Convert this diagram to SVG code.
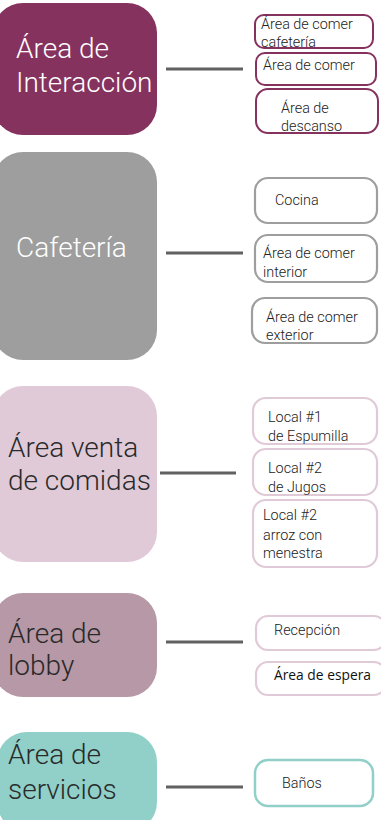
<svg xmlns="http://www.w3.org/2000/svg" width="381" height="820" viewBox="0 0 381 820">
<style>
.main{font-family:Roboto,"Liberation Sans",sans-serif;font-weight:300;font-size:28px}
.w{fill:#ffffff}
.d{fill:#2a2a2a}
.sub{font-family:Roboto,"Liberation Sans",sans-serif;font-weight:300;font-size:14.4px;fill:#222}
.conn{stroke:#616161;stroke-width:3}
.c1{fill:#fff;stroke:#86325f;stroke-width:2}
.c2{fill:#fff;stroke:#9e9e9e;stroke-width:2.2}
.c3{fill:#fff;stroke:#e0cad8;stroke-width:2.2}
.c5{fill:#fff;stroke:#90d0c8;stroke-width:2.5}
</style>
<g id="connectors">
<line class="conn" x1="166" y1="69" x2="243" y2="69"/>
<line class="conn" x1="166" y1="253" x2="243" y2="253"/>
<line class="conn" x1="160" y1="473" x2="236" y2="473"/>
<line class="conn" x1="166" y1="642" x2="243" y2="642"/>
<line class="conn" x1="166" y1="787" x2="243" y2="787"/>
</g>
<g id="interaccion">
<rect x="-7" y="3" width="164" height="132" rx="30" fill="#86325f"/>
<text class="main w" x="16" y="58">Área de</text>
<text class="main w" x="16" y="92">Interacción</text>
</g>
<g id="comer-cafeteria">
<rect class="c1" x="255" y="15" width="118" height="33" rx="9"/>
<text class="sub" x="261" y="29">Área de comer</text>
<text class="sub" x="261" y="47">cafetería</text>
</g>
<g id="comer">
<rect class="c1" x="256" y="53" width="120" height="32" rx="9"/>
<text class="sub" x="263" y="70">Área de comer</text>
</g>
<g id="descanso">
<rect class="c1" x="256" y="89" width="122" height="44" rx="12"/>
<text class="sub" x="281" y="113">Área de</text>
<text class="sub" x="281" y="131">descanso</text>
</g>
<g id="cafeteria">
<rect x="-7" y="152" width="164" height="208" rx="30" fill="#9e9e9e"/>
<text class="main w" x="16" y="257">Cafetería</text>
</g>
<g id="cocina">
<rect class="c2" x="255" y="178" width="122" height="45" rx="13"/>
<text class="sub" x="275" y="205">Cocina</text>
</g>
<g id="comer-interior">
<rect class="c2" x="255" y="235" width="122" height="47" rx="13"/>
<text class="sub" x="263" y="258">Área de comer</text>
<text class="sub" x="263" y="277">interior</text>
</g>
<g id="comer-exterior">
<rect class="c2" x="252" y="298" width="125" height="45" rx="13"/>
<text class="sub" x="266" y="322">Área de comer</text>
<text class="sub" x="266" y="340">exterior</text>
</g>
<g id="venta">
<rect x="-7" y="386" width="164" height="176" rx="30" fill="#e0cad8"/>
<text class="main d" x="8" y="457">Área venta</text>
<text class="main d" x="8" y="490">de comidas</text>
</g>
<g id="local1">
<rect class="c3" x="253" y="398" width="124" height="46" rx="13"/>
<text class="sub" x="268" y="422">Local #1</text>
<text class="sub" x="268" y="441">de Espumilla</text>
</g>
<g id="local2">
<rect class="c3" x="253" y="449" width="124" height="46" rx="13"/>
<text class="sub" x="268" y="473">Local #2</text>
<text class="sub" x="268" y="492">de Jugos</text>
</g>
<g id="local3">
<rect class="c3" x="253" y="500" width="124" height="67" rx="13"/>
<text class="sub" x="263" y="520">Local #2</text>
<text class="sub" x="263" y="540">arroz con</text>
<text class="sub" x="263" y="558">menestra</text>
</g>
<g id="lobby">
<rect x="-7" y="593" width="164" height="104" rx="30" fill="#b698a6"/>
<text class="main d" x="8" y="643">Área de</text>
<text class="main d" x="8" y="675">lobby</text>
</g>
<g id="recepcion">
<rect class="c3" x="256" y="616" width="130" height="34" rx="12"/>
<text class="sub" x="274" y="635">Recepción</text>
</g>
<g id="espera">
<rect class="c3" x="256" y="662" width="130" height="33" rx="12"/>
<text x="274" y="680" style="font-family:'Open Sans','DejaVu Sans',sans-serif;font-size:13.8px;fill:#111">Área de espera</text>
</g>
<g id="servicios">
<rect x="-3" y="732" width="160" height="100" rx="30" fill="#90d0c8"/>
<text class="main d" x="8" y="764">Área de</text>
<text class="main d" x="8" y="799">servicios</text>
</g>
<g id="banos">
<rect class="c5" x="255" y="760" width="118" height="46" rx="13"/>
<text class="sub" x="282" y="788">Baños</text>
</g>
</svg>
